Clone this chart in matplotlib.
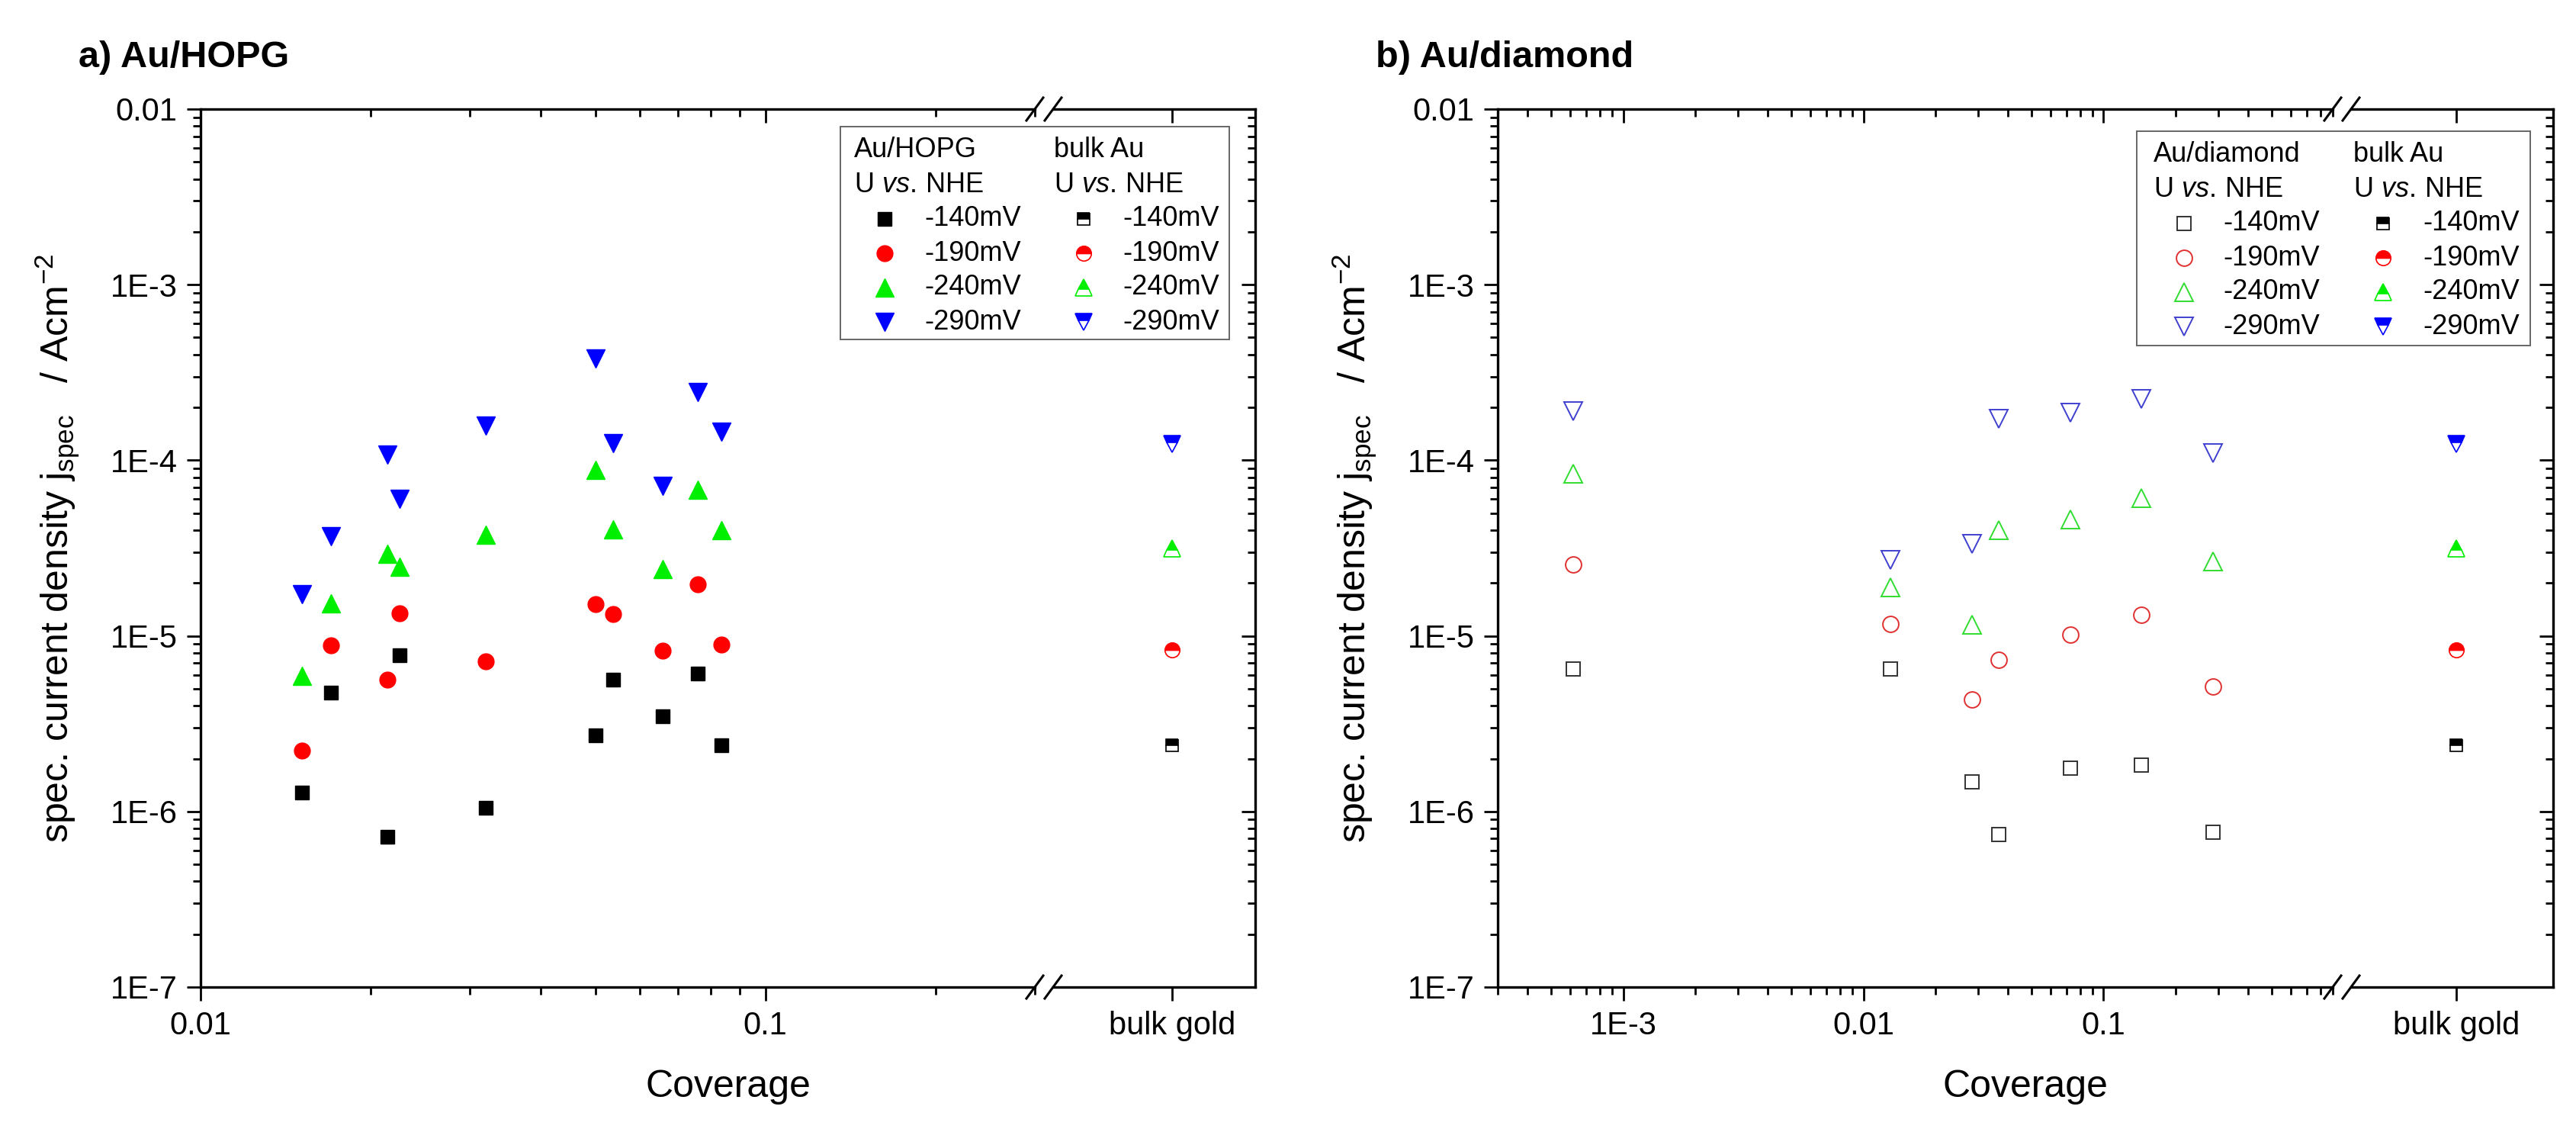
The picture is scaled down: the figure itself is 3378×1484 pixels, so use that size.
import numpy as np
import matplotlib
matplotlib.use("Agg")
import matplotlib.pyplot as plt
from matplotlib.lines import Line2D
from matplotlib.patches import Rectangle
from matplotlib.ticker import FixedLocator, LogLocator, NullFormatter, NullLocator, FuncFormatter

plt.rcParams['font.family'] = ['Liberation Sans', 'DejaVu Sans']
plt.rcParams['mathtext.fontset'] = 'custom'
plt.rcParams['mathtext.rm'] = 'Liberation Sans'
plt.rcParams['mathtext.it'] = 'Liberation Sans:italic'
plt.rcParams['mathtext.bf'] = 'Liberation Sans:bold'

# ---- data ----
potentials = ['-140mV', '-190mV', '-240mV', '-290mV']

hopg_cov = [0.0151, 0.0170, 0.0214, 0.0225, 0.0320, 0.0500, 0.0537, 0.0657, 0.0759, 0.0837]
hopg_140 = [1.28e-6, 4.76e-6, 7.2e-7, 7.77e-6, 1.05e-6, 2.72e-6, 5.63e-6, 3.48e-6, 6.08e-6, 2.39e-6]
hopg_190 = [2.23e-6, 8.8e-6, 5.63e-6, 1.34e-5, 7.14e-6, 1.52e-5, 1.33e-5, 8.26e-6, 1.96e-5, 8.91e-6]
hopg_240 = [5.9e-6, 1.53e-5, 2.94e-5, 2.47e-5, 3.76e-5, 8.85e-5, 4.06e-5, 2.41e-5, 6.82e-5, 3.99e-5]
hopg_290 = [1.72e-5, 3.70e-5, 1.08e-4, 6.04e-5, 1.58e-4, 3.81e-4, 1.25e-4, 7.14e-5, 2.45e-4, 1.46e-4]

dia_cov = [6.2e-4, 0.01295, 0.0284, 0.0365, 0.0728, 0.1436, 0.2857]
dia_140 = [6.47e-6, 6.47e-6, 1.48e-6, 7.42e-7, 1.76e-6, 1.83e-6, 7.59e-7]
dia_190 = [2.54e-5, 1.17e-5, 4.35e-6, 7.31e-6, 1.02e-5, 1.32e-5, 5.14e-6]
dia_240 = [8.39e-5, 1.89e-5, 1.16e-5, 3.99e-5, 4.62e-5, 6.08e-5, 2.66e-5]
dia_290 = [1.90e-4, 2.70e-5, 3.35e-5, 1.73e-4, 1.86e-4, 2.23e-4, 1.10e-4]

bulk_label = 'bulk gold'
bulk_j = [2.39e-6, 8.32e-6, 3.15e-5, 1.24e-4]

y_names = {-2: '0.01', -3: '1E-3', -4: '1E-4', -5: '1E-5', -6: '1E-6', -7: '1E-7'}
x_names = {-3: '1E-3', -2: '0.01', -1: '0.1'}

# ---- styles ----
markers = ['s', 'o', '^', 'v']
msizes = [13, 15, 17, 17]
colors = ['black', '#ff0000', '#00ee00', '#0000ff']
open_colors = ['#333333', '#e03030', '#30dd30', '#4040d0']

W, H = 3378, 1484
TOP, BOT = 143, 1294
SPINE_W = 2.4
fig = plt.figure(figsize=(W / 100, H / 100), dpi=100)


def fx(x):
    return x / W


def fy(y):
    return 1 - y / H


def box(l, r, t, b):
    return [fx(l), fy(b), (r - l) / W, (b - t) / H]


def exp_fmt(names):
    return FuncFormatter(lambda v, p: names.get(int(round(np.log10(v))), ''))


def log_y(ax):
    ax.set_yscale('log')
    ax.set_ylim(1e-7, 1e-2)
    ax.yaxis.set_major_locator(FixedLocator([1e-7, 1e-6, 1e-5, 1e-4, 1e-3, 1e-2]))
    ax.yaxis.set_major_formatter(exp_fmt(y_names))
    ax.yaxis.set_minor_locator(LogLocator(base=10, subs=np.arange(2, 10), numticks=50))
    ax.yaxis.set_minor_formatter(NullFormatter())


def top_ticks(ax, pos):
    t = fig.add_axes(pos, sharex=ax, sharey=ax, frameon=False)
    t.patch.set_visible(False)
    t.tick_params(which='both', direction='in', bottom=False, left=False, right=False,
                  top=True, labelbottom=False, labelleft=False, labeltop=False, width=2)
    t.tick_params(which='major', length=13)
    t.tick_params(which='minor', length=7)
    return t


def slashes(cxs):
    for y in (TOP, BOT):
        for cx in cxs:
            fig.add_artist(Line2D([fx(cx - 11), fx(cx + 11)], [fy(y + 15), fy(y - 15)],
                                  color='black', lw=2.2, transform=fig.transFigure))


def legend_box(l, t, r, b, head, cols, filled):
    fig.add_artist(Rectangle((fx(l), fy(b)), (r - l) / W, (b - t) / H, transform=fig.transFigure,
                             facecolor='white', edgecolor='#666666', lw=1.4, zorder=5))
    rows = [t + 31, t + 76, t + 121, t + 166, t + 211, t + 256]
    hx1, mx1, lx1, hx2, mx2, lx2 = cols
    for hx, name in ((hx1, head), (hx2, 'bulk Au')):
        fig.text(fx(hx), fy(rows[0]), name, fontsize=26, va='center', ha='left', zorder=6)
        fig.text(fx(hx), fy(rows[1]), r'U $\mathit{vs.}\,$NHE', fontsize=26, va='center', ha='left', zorder=6)
    for i, lab in enumerate(potentials):
        y = rows[i + 2]
        if filled:
            fig.add_artist(Line2D([fx(mx1)], [fy(y)], marker=markers[i], ms=msizes[i], color=colors[i],
                                  mec=colors[i], mew=1, ls='none', transform=fig.transFigure, zorder=6))
        else:
            fig.add_artist(Line2D([fx(mx1)], [fy(y)], marker=markers[i], ms=msizes[i], mfc='none',
                                  mec=open_colors[i], mew=1.4, ls='none', transform=fig.transFigure, zorder=6))
        fig.add_artist(Line2D([fx(mx2)], [fy(y)], marker=markers[i], ms=msizes[i] - 1, color=colors[i],
                              mec=colors[i], mew=1.2, fillstyle='top', mfcalt='white', ls='none',
                              transform=fig.transFigure, zorder=6))
        fig.text(fx(lx1), fy(y), lab, fontsize=26, va='center', ha='left', zorder=6)
        fig.text(fx(lx2), fy(y), lab, fontsize=26, va='center', ha='left', zorder=6)


def panel(left, brk1, brk2, right, xlim, x_major, bulk_lim, cov, series, filled, title, head, leg, cols):
    pos1 = box(left, brk1, TOP, BOT)
    pos2 = box(brk2, right, TOP, BOT)
    ax = fig.add_axes(pos1)
    ax.set_xscale('log')
    ax.set_xlim(*xlim)
    ax.xaxis.set_major_locator(FixedLocator(x_major))
    ax.xaxis.set_major_formatter(exp_fmt(x_names))
    ax.xaxis.set_minor_locator(LogLocator(base=10, subs=np.arange(2, 10), numticks=50))
    ax.xaxis.set_minor_formatter(NullFormatter())
    log_y(ax)
    ax.spines['right'].set_visible(False)
    for s in ax.spines.values():
        s.set_linewidth(SPINE_W)
    ax.tick_params(which='both', direction='out', top=False, right=False, width=2, labelsize=30, pad=9)
    ax.tick_params(which='major', length=13)
    ax.tick_params(which='minor', length=7)

    for i, vals in enumerate(series):
        if filled:
            ax.plot(cov, vals, ls='none', marker=markers[i], ms=msizes[i], color=colors[i],
                    mec=colors[i], mew=1)
        else:
            ax.plot(cov, vals, ls='none', marker=markers[i], ms=msizes[i], mfc='none',
                    mec=open_colors[i], mew=1.4)
    top_ticks(ax, pos1)

    ax2 = fig.add_axes(pos2)
    log_y(ax2)
    ax2.set_xlim(*bulk_lim)
    ax2.set_xticks([0])
    ax2.set_xticklabels([bulk_label])
    ax2.xaxis.set_minor_locator(NullLocator())
    ax2.spines['left'].set_visible(False)
    for s in ax2.spines.values():
        s.set_linewidth(SPINE_W)
    ax2.tick_params(axis='x', which='both', direction='out', top=False, width=2, labelsize=30, pad=9)
    ax2.tick_params(axis='y', which='both', direction='in', left=False, right=True,
                    labelleft=False, labelright=False, width=2)
    ax2.tick_params(which='major', length=13)
    ax2.tick_params(which='minor', length=7)
    for i, v in enumerate(bulk_j):
        ax2.plot([0], [v], ls='none', marker=markers[i], ms=msizes[i] - 1, color=colors[i],
                 mec=colors[i], mew=1.2, fillstyle='top', mfcalt='white')
    t2 = top_ticks(ax2, pos2)
    t2.xaxis.set_minor_locator(NullLocator())

    slashes([brk1, brk2])

    fig.text(fx(left - 160), fy(88), title, fontsize=35, fontweight='bold', ha='left', va='baseline')
    fig.text(fx((left + right) / 2), fy(1438), 'Coverage', fontsize=36, ha='center', va='baseline')
    fig.text(fx(left - 188), fy((TOP + BOT) / 2),
             r'spec. current density j$_{\mathrm{spec}}$   / Acm$^{-2}$',
             fontsize=36, rotation=90, ha='center', va='center')
    legend_box(*leg, head, cols, filled)


panel(263, 1357, 1381, 1646, (0.01, 0.3), [0.01, 0.1], (-0.589, 0.411), hopg_cov,
      [hopg_140, hopg_190, hopg_240, hopg_290], True, 'a) Au/HOPG', 'Au/HOPG',
      (1102, 166, 1612, 445), (1120, 1160, 1212, 1382, 1421, 1472))

panel(1964, 3059, 3083, 3348, (3e-4, 0.9), [1e-3, 0.01, 0.1], (-0.521, 0.479), dia_cov,
      [dia_140, dia_190, dia_240, dia_290], False, 'b) Au/diamond', 'Au/diamond',
      (2802, 172, 3318, 453), (2824, 2864, 2915, 3086, 3125, 3177))

fig.savefig('out.png', dpi=100)
